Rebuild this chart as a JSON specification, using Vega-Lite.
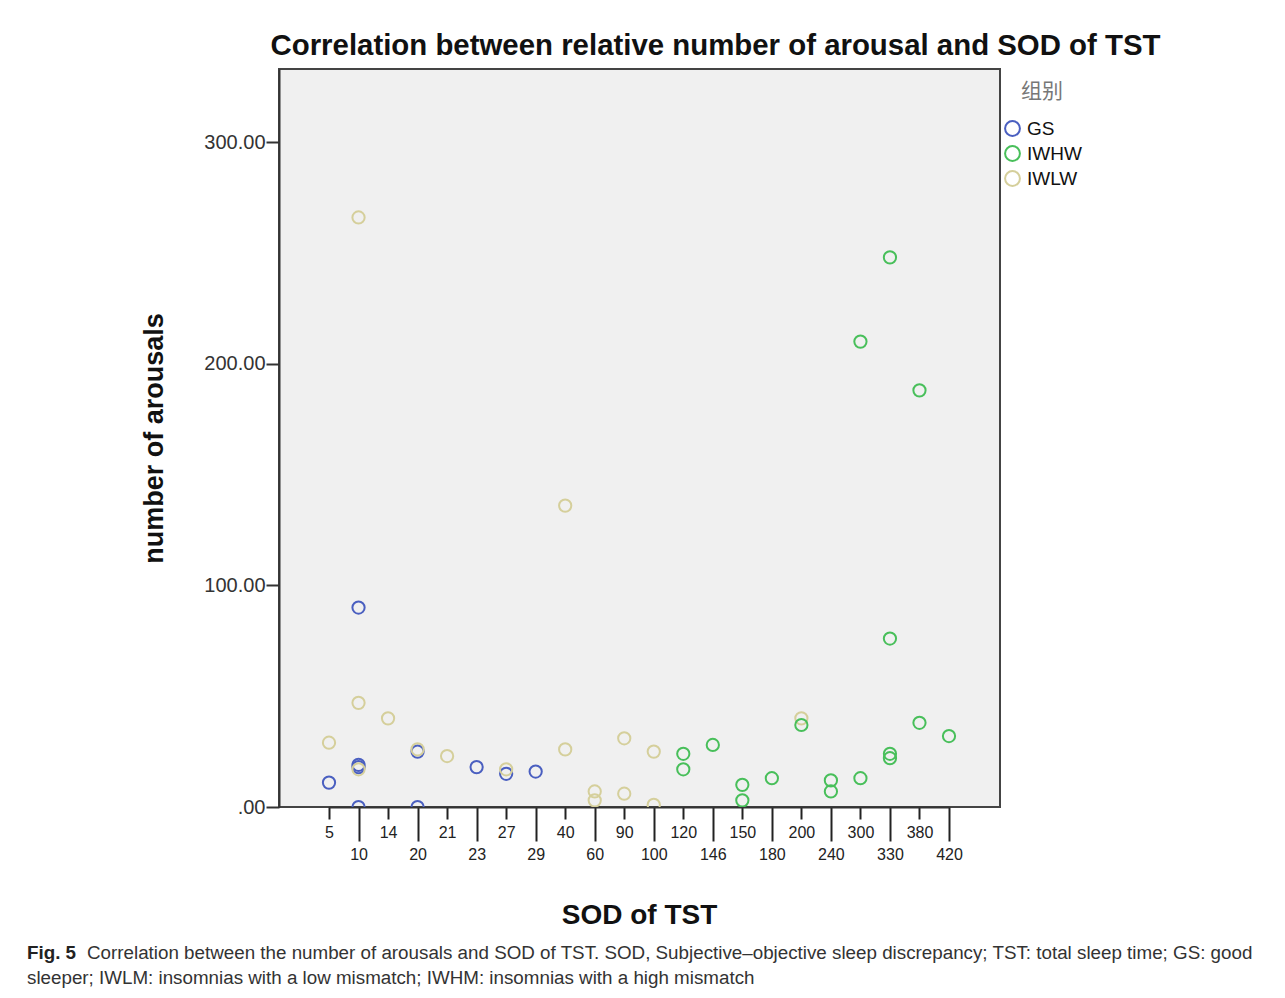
{
  "$schema": "https://vega.github.io/schema/vega-lite/v6.json",
  "background": "white",
  "padding": {"left": 27, "top": 30, "right": 10, "bottom": 10},
  "bounds": "flush",
  "center": true,
  "spacing": 133,
  "vconcat": [
    {
      "title": {
        "text": "Correlation between relative number of arousal and SOD of TST",
        "font": "Liberation Sans",
        "fontSize": 29.4,
        "fontWeight": "bold",
        "color": "#111111",
        "anchor": "middle",
        "dx": 76,
        "offset": 7.5
      },
      "width": 721,
      "height": 738,
      "view": {"stroke": "#444444", "strokeWidth": 2, "fill": "#f0f0f0"},
      "data": {
        "values": [
          {"sod": 5, "arousals": 11, "group": "GS"},
          {"sod": 10, "arousals": 90, "group": "GS"},
          {"sod": 10, "arousals": 19, "group": "GS"},
          {"sod": 10, "arousals": 18, "group": "GS"},
          {"sod": 10, "arousals": 0, "group": "GS"},
          {"sod": 20, "arousals": 25, "group": "GS"},
          {"sod": 20, "arousals": 0, "group": "GS"},
          {"sod": 23, "arousals": 18, "group": "GS"},
          {"sod": 27, "arousals": 15, "group": "GS"},
          {"sod": 29, "arousals": 16, "group": "GS"},
          {"sod": 5, "arousals": 29, "group": "IWLW"},
          {"sod": 10, "arousals": 266, "group": "IWLW"},
          {"sod": 10, "arousals": 47, "group": "IWLW"},
          {"sod": 10, "arousals": 17, "group": "IWLW"},
          {"sod": 14, "arousals": 40, "group": "IWLW"},
          {"sod": 20, "arousals": 26, "group": "IWLW"},
          {"sod": 21, "arousals": 23, "group": "IWLW"},
          {"sod": 27, "arousals": 17, "group": "IWLW"},
          {"sod": 40, "arousals": 136, "group": "IWLW"},
          {"sod": 40, "arousals": 26, "group": "IWLW"},
          {"sod": 60, "arousals": 7, "group": "IWLW"},
          {"sod": 60, "arousals": 3, "group": "IWLW"},
          {"sod": 90, "arousals": 31, "group": "IWLW"},
          {"sod": 90, "arousals": 6, "group": "IWLW"},
          {"sod": 100, "arousals": 25, "group": "IWLW"},
          {"sod": 100, "arousals": 1, "group": "IWLW"},
          {"sod": 200, "arousals": 40, "group": "IWLW"},
          {"sod": 120, "arousals": 24, "group": "IWHW"},
          {"sod": 120, "arousals": 17, "group": "IWHW"},
          {"sod": 146, "arousals": 28, "group": "IWHW"},
          {"sod": 150, "arousals": 10, "group": "IWHW"},
          {"sod": 150, "arousals": 3, "group": "IWHW"},
          {"sod": 180, "arousals": 13, "group": "IWHW"},
          {"sod": 200, "arousals": 37, "group": "IWHW"},
          {"sod": 240, "arousals": 12, "group": "IWHW"},
          {"sod": 240, "arousals": 7, "group": "IWHW"},
          {"sod": 300, "arousals": 13, "group": "IWHW"},
          {"sod": 300, "arousals": 210, "group": "IWHW"},
          {"sod": 330, "arousals": 248, "group": "IWHW"},
          {"sod": 330, "arousals": 76, "group": "IWHW"},
          {"sod": 330, "arousals": 24, "group": "IWHW"},
          {"sod": 330, "arousals": 22, "group": "IWHW"},
          {"sod": 380, "arousals": 38, "group": "IWHW"},
          {"sod": 380, "arousals": 188, "group": "IWHW"},
          {"sod": 420, "arousals": 32, "group": "IWHW"}
        ]
      },
      "mark": {"type": "point", "shape": "circle", "filled": false, "size": 150, "strokeWidth": 2, "opacity": 1, "clip": true},
      "encoding": {
        "x": {
          "field": "sod",
          "type": "ordinal",
          "scale": {"type": "point", "padding": 0, "range": [50, 670]},
          "axis": {
            "title": "SOD of TST",
            "titleFont": "Liberation Sans",
            "titleFontSize": 28,
            "titleFontWeight": "bold",
            "titleColor": "#111111",
            "titlePadding": 39,
            "labelFont": "Liberation Sans",
            "labelFontSize": 16,
            "labelColor": "#222222",
            "labelAngle": 0,
            "labelPadding": 5,
            "labelOverlap": false,
            "tickSize": {"condition": {"test": "indexof([10,20,23,29,60,100,146,180,240,330,420], datum.value) >= 0", "value": 34}, "value": 12},
            "tickWidth": 2,
            "tickColor": "#222222",
            "domainColor": "#333333",
            "domainWidth": 2,
            "grid": false
          }
        },
        "y": {
          "field": "arousals",
          "type": "quantitative",
          "scale": {"domain": [0, 333], "nice": false},
          "axis": {
            "title": "number of arousals",
            "titleFont": "Liberation Sans",
            "titleFontSize": 27,
            "titleFontWeight": "bold",
            "titleColor": "#111111",
            "titlePadding": 35,
            "values": [0, 100, 200, 300],
            "labelExpr": "datum.value == 0 ? '.00' : format(datum.value, '.2f')",
            "labelFont": "Liberation Sans",
            "labelFontSize": 20,
            "labelColor": "#333333",
            "labelPadding": 1,
            "tickSize": 13,
            "tickWidth": 2,
            "tickColor": "#333333",
            "domainColor": "#333333",
            "domainWidth": 2,
            "grid": false
          }
        },
        "color": {
          "field": "group",
          "type": "nominal",
          "scale": {"domain": ["GS", "IWHW", "IWLW"], "range": ["#4a5fc0", "#48bf5a", "#d5cf9b"]},
          "legend": {
            "title": "组别",
            "orient": "none",
            "legendX": 976,
            "legendY": 12,
            "padding": 0,
            "titleFont": "Noto Sans CJK SC",
            "titleFontSize": 21,
            "titleFontWeight": "normal",
            "titleColor": "#777777",
            "titleAnchor": "middle",
            "titlePadding": 17,
            "labelFont": "Liberation Sans",
            "labelFontSize": 19,
            "labelColor": "#111111",
            "labelOffset": 5,
            "rowPadding": 2,
            "symbolType": "circle",
            "symbolSize": 220,
            "symbolStrokeWidth": 2,
            "symbolFillColor": "transparent"
          }
        }
      }
    },
    {
      "width": 1225,
      "height": 50,
      "view": {"stroke": null, "fill": null},
      "data": {
        "values": [
          {"line": 1, "lead": "Fig. 5", "text": "Correlation between the number of arousals and SOD of TST. SOD, Subjective–objective sleep discrepancy; TST: total sleep time; GS: good"},
          {"line": 2, "lead": "", "text": "sleeper; IWLM: insomnias with a low mismatch; IWHM: insomnias with a high mismatch"}
        ]
      },
      "encoding": {
        "x": {"datum": 0, "type": "quantitative", "scale": {"domain": [0, 1]}, "axis": null},
        "y": {"field": "line", "type": "ordinal", "axis": null}
      },
      "layer": [
        {
          "mark": {"type": "text", "align": "left", "baseline": "middle", "font": "Liberation Sans", "fontSize": 18.8, "fontWeight": "bold", "color": "#222222"},
          "encoding": {"text": {"field": "lead"}}
        },
        {
          "transform": [{"filter": "datum.line == 1"}],
          "mark": {"type": "text", "align": "left", "baseline": "middle", "font": "Liberation Sans", "fontSize": 18.8, "color": "#333333", "dx": 60},
          "encoding": {"text": {"field": "text"}}
        },
        {
          "transform": [{"filter": "datum.line == 2"}],
          "mark": {"type": "text", "align": "left", "baseline": "middle", "font": "Liberation Sans", "fontSize": 18.8, "color": "#333333"},
          "encoding": {"text": {"field": "text"}}
        }
      ]
    }
  ]
}
